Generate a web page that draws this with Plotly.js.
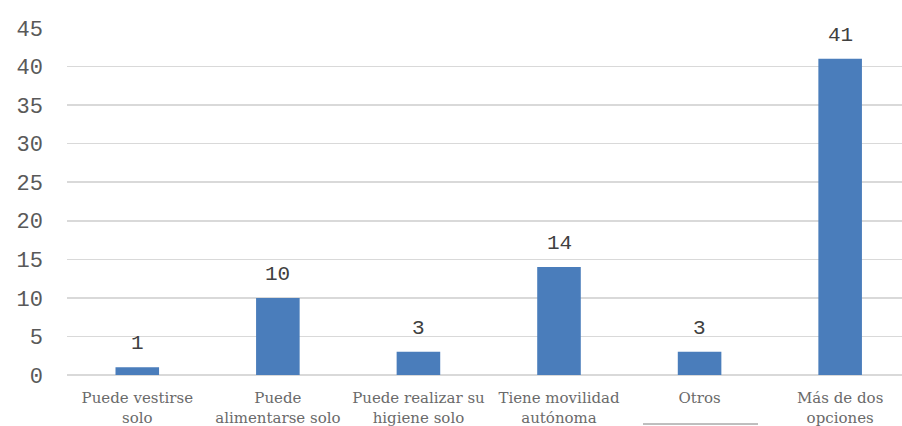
<!DOCTYPE html>
<html><head><meta charset="utf-8">
<script src="https://cdn.plot.ly/plotly-3.0.1.min.js"></script>
<style>html,body{margin:0;padding:0;background:#fff;}#chart{width:902px;height:426px;}</style>
</head><body><div id="chart"></div>
<script>
const categories = ["Puede vestirse<br>solo", "Puede<br>alimentarse solo", "Puede realizar su<br>higiene solo", "Tiene movilidad<br>autónoma", "Otros", "Más de dos<br>opciones"];
const values = [1, 10, 3, 14, 3, 41];
const yTicks = [0, 5, 10, 15, 20, 25, 30, 35, 40, 45];

const xIdx = categories.map((c, i) => i);
const trace = {
  type: 'bar', x: xIdx, y: values, width: 0.31,
  marker: {color: '#4a7dbb'}, hoverinfo: 'skip'
};
const annotations = values.map((v, i) => ({
  x: i, y: v, xref: 'x', yref: 'y', text: String(v), showarrow: false,
  yanchor: 'bottom', yshift: 10,
  font: {family: 'Liberation Mono', size: 21, color: '#404040'}
}));
const layout = {
  width: 902, height: 426,
  margin: {l: 67, r: 0, t: 28, b: 51},
  paper_bgcolor: '#fff', plot_bgcolor: '#fff',
  showlegend: false,
  xaxis: {
    range: [-0.5, 5.44], tickvals: xIdx, ticktext: categories,
    showgrid: false, zeroline: false, showline: false, ticks: '',
    ticklabelstandoff: 12,
    tickfont: {family: 'DejaVu Serif', size: 15, color: '#6a6a6a'},
    fixedrange: true
  },
  yaxis: {
    range: [0, 45], tickvals: yTicks, ticktext: yTicks.map(String),
    showgrid: true, gridcolor: '#d9d9d9', gridwidth: 1.5,
    zeroline: true, zerolinecolor: '#d9d9d9', zerolinewidth: 1.5,
    showline: false, ticks: '', ticklabelstandoff: 23,
    tickfont: {family: 'Liberation Mono', size: 22, color: '#595959'},
    fixedrange: true
  },
  annotations: annotations,
  shapes: [{type: 'line', xref: 'paper', yref: 'paper', x0: (643-67)/835, x1: (758-67)/835,
    y0: (426-424-51)/347, y1: (426-424-51)/347, line: {color: '#7f7f7f', width: 1}}]
};
Plotly.newPlot('chart', [trace], layout, {displayModeBar: false, staticPlot: true});
</script></body></html>
